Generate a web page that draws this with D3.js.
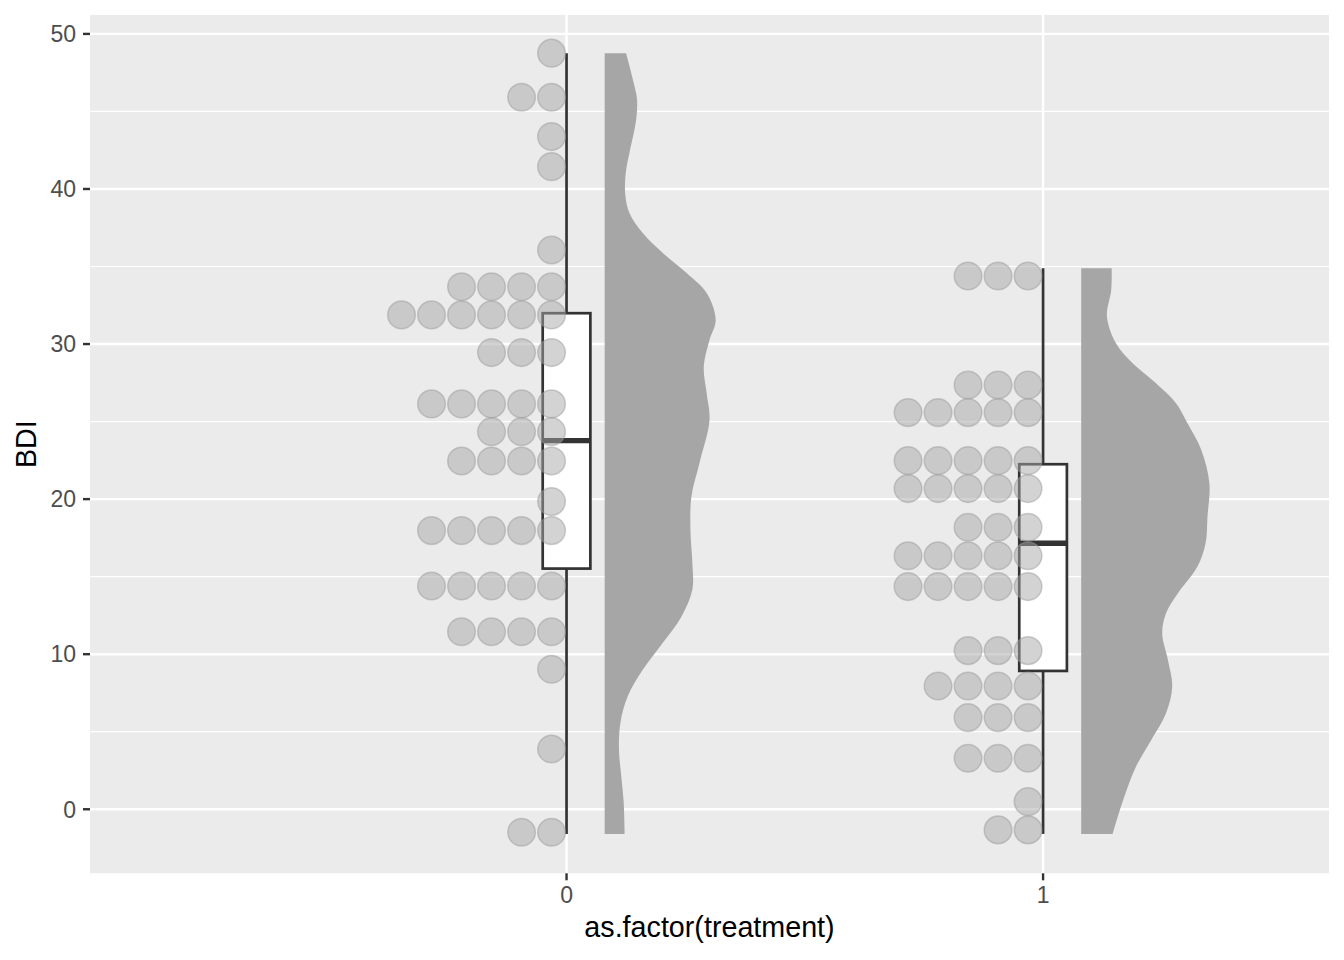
<!DOCTYPE html>
<html>
<head>
<meta charset="utf-8">
<script src="https://cdn.jsdelivr.net/npm/d3@7"></script>
<style>
  body { margin: 0; background: #fff; }
  text { font-family: "Liberation Sans", Arial, sans-serif; }
</style>
</head>
<body>
<div id="chart"></div>
<script>
// groupes et graduations
const treatment = ["0", "1"];
const yTicks = [0, 10, 20, 30, 40, 50];
const yMinor = [5, 15, 25, 35, 45];

// points empilés : [BDI, nombre de points]
const dots0 = [
    [48.76, 1], [45.92, 2], [43.38, 1], [41.44, 1], [36.07, 1], [33.70, 4],
    [31.88, 6], [29.45, 3], [26.14, 5], [24.35, 3], [22.46, 4], [19.84, 1],
    [17.97, 5], [14.40, 5], [11.45, 4], [9.03, 1], [3.89, 1], [-1.48, 2]
];
const dots1 = [
    [34.39, 3], [27.36, 3], [25.58, 5], [22.48, 5], [20.68, 5], [18.19, 3],
    [16.35, 5], [14.36, 5], [10.23, 3], [7.95, 4], [5.91, 3], [3.29, 3],
    [0.49, 1], [-1.33, 2]
];

// statistiques des boîtes (groupe 0, groupe 1)
const boxLow  = [-1.59, -1.59];
const boxQ1   = [15.52, 8.92];
const boxMed  = [23.77, 17.15];
const boxQ3   = [31.99, 22.25];
const boxHigh = [48.76, 34.89];

// densité (demi-violon) : [BDI, largeur en unités de x]
const density0 = [
    [48.76, 0.045], [46.60, 0.063], [45.74, 0.068], [44.45, 0.066], [42.32, 0.052],
    [41.22, 0.045], [39.74, 0.043], [38.45, 0.052], [37.16, 0.080], [35.87, 0.122],
    [34.58, 0.172], [33.29, 0.214], [31.55, 0.233], [30.26, 0.220], [28.52, 0.208],
    [26.84, 0.214], [25.10, 0.220], [22.33, 0.199], [20.16, 0.182], [18.01, 0.180],
    [15.89, 0.184], [14.15, 0.184], [12.42, 0.161], [10.73, 0.122], [8.99, 0.080],
    [7.26, 0.048], [5.57, 0.033], [3.83, 0.030], [2.10, 0.035], [0.41, 0.040],
    [-1.59, 0.042]
];
const density1 = [
    [34.89, 0.064], [33.49, 0.063], [31.77, 0.054], [30.05, 0.073], [28.76, 0.108],
    [27.47, 0.157], [26.18, 0.199], [24.89, 0.223], [23.17, 0.252], [21.02, 0.269],
    [18.87, 0.265], [17.15, 0.261], [15.65, 0.244], [13.93, 0.203], [12.64, 0.178],
    [11.35, 0.170], [9.63, 0.182], [7.91, 0.191], [6.19, 0.178], [4.47, 0.147],
    [2.75, 0.115], [1.03, 0.093], [-0.26, 0.079], [-1.59, 0.066]
];

const dotsByGroup = [dots0, dots1];
const densityByGroup = [density0, density1];

// réglages des géométries
const binWidth = 1.935;
const dotSize = 0.92;
const boxWidth = 0.1;
const densityNudge = 0.08;

const width = 1344, height = 960;
const panel = { left: 90, top: 15, right: 1329, bottom: 873.3 };

const svg = d3.select('#chart').append('svg')
    .attr('width', width)
    .attr('height', height);

const x = d3.scaleLinear().domain([-1.0, 1.6]).range([panel.left, panel.right]);
const y = d3.scaleLinear().domain([-4.13, 51.22]).range([panel.bottom, panel.top]);

// fond du panneau
svg.append('rect')
    .attr('x', panel.left)
    .attr('y', panel.top)
    .attr('width', panel.right - panel.left)
    .attr('height', panel.bottom - panel.top)
    .attr('fill', '#EBEBEB');

// grille
const grid = svg.append('g');
grid.selectAll('.minor')
    .data(yMinor)
    .enter()
    .append('line')
    .attr('x1', panel.left).attr('x2', panel.right)
    .attr('y1', d => y(d)).attr('y2', d => y(d))
    .attr('stroke', '#fff')
    .attr('stroke-width', 1.2);
grid.selectAll('.major')
    .data(yTicks)
    .enter()
    .append('line')
    .attr('x1', panel.left).attr('x2', panel.right)
    .attr('y1', d => y(d)).attr('y2', d => y(d))
    .attr('stroke', '#fff')
    .attr('stroke-width', 2.4);
grid.selectAll('.vert')
    .data(treatment)
    .enter()
    .append('line')
    .attr('x1', (d, i) => x(i)).attr('x2', (d, i) => x(i))
    .attr('y1', panel.top).attr('y2', panel.bottom)
    .attr('stroke', '#fff')
    .attr('stroke-width', 2.4);

// demi-violons
const area = d3.area()
    .curve(d3.curveCatmullRom)
    .y(d => y(d[0]));

densityByGroup.forEach((dens, i) => {
    const base = x(i + densityNudge);
    svg.append('path')
        .datum(dens)
        .attr('d', area.x0(base).x1(d => base + x(d[1]) - x(0)))
        .attr('fill', '#A6A6A6');
});

// boîtes à moustaches
const boxes = svg.append('g');
treatment.forEach((t, i) => {
    const cx = x(i);
    const half = (x(boxWidth) - x(0)) / 2;
    const g = boxes.append('g')
        .attr('stroke', '#333333')
        .attr('stroke-width', 2.7);
    g.append('line')
        .attr('x1', cx).attr('x2', cx)
        .attr('y1', y(boxHigh[i])).attr('y2', y(boxQ3[i]));
    g.append('line')
        .attr('x1', cx).attr('x2', cx)
        .attr('y1', y(boxQ1[i])).attr('y2', y(boxLow[i]));
    g.append('rect')
        .attr('x', cx - half)
        .attr('y', y(boxQ3[i]))
        .attr('width', half * 2)
        .attr('height', y(boxQ1[i]) - y(boxQ3[i]))
        .attr('fill', '#fff');
    g.append('line')
        .attr('x1', cx - half).attr('x2', cx + half)
        .attr('y1', y(boxMed[i])).attr('y2', y(boxMed[i]))
        .attr('stroke-width', 5.4);
});

// points (empilés vers la gauche)
const step = y(0) - y(binWidth);
const dotData = [];
dotsByGroup.forEach((bins, i) => {
    bins.forEach(([v, n]) => {
        for (let k = 0; k < n; k++) {
            dotData.push({ g: i, v: v, k: k });
        }
    });
});
svg.append('g')
    .selectAll('circle')
    .data(dotData)
    .enter()
    .append('circle')
    .attr('cx', d => x(d.g) - step / 2 - d.k * step)
    .attr('cy', d => y(d.v))
    .attr('r', step * dotSize / 2)
    .attr('fill', 'rgb(168,168,168)')
    .attr('fill-opacity', 0.5)
    .attr('stroke', 'rgb(150,150,150)')
    .attr('stroke-opacity', 0.45)
    .attr('stroke-width', 1.5);

// axe y
const yAxis = svg.append('g');
yAxis.selectAll('line')
    .data(yTicks)
    .enter()
    .append('line')
    .attr('x1', panel.left - 7).attr('x2', panel.left)
    .attr('y1', d => y(d)).attr('y2', d => y(d))
    .attr('stroke', '#333333')
    .attr('stroke-width', 2.4);
yAxis.selectAll('text')
    .data(yTicks)
    .enter()
    .append('text')
    .attr('x', 76)
    .attr('y', d => y(d))
    .attr('dy', '0.36em')
    .attr('text-anchor', 'end')
    .attr('fill', '#4D4D4D')
    .style('font-size', '23px')
    .text(d => d);

// axe x
const xAxis = svg.append('g');
xAxis.selectAll('line')
    .data(treatment)
    .enter()
    .append('line')
    .attr('x1', (d, i) => x(i)).attr('x2', (d, i) => x(i))
    .attr('y1', panel.bottom).attr('y2', panel.bottom + 7)
    .attr('stroke', '#333333')
    .attr('stroke-width', 2.4);
xAxis.selectAll('text')
    .data(treatment)
    .enter()
    .append('text')
    .attr('x', (d, i) => x(i))
    .attr('y', 903)
    .attr('text-anchor', 'middle')
    .attr('fill', '#4D4D4D')
    .style('font-size', '23px')
    .text(d => d);

// titres
svg.append('text')
    .attr('x', (panel.left + panel.right) / 2)
    .attr('y', 937)
    .attr('text-anchor', 'middle')
    .attr('fill', '#000')
    .style('font-size', '28.7px')
    .text('as.factor(treatment)');

svg.append('text')
    .attr('transform', `translate(36,${(panel.top + panel.bottom) / 2}) rotate(-90)`)
    .attr('text-anchor', 'middle')
    .attr('fill', '#000')
    .style('font-size', '28.7px')
    .text('BDI');
</script>
</body>
</html>
